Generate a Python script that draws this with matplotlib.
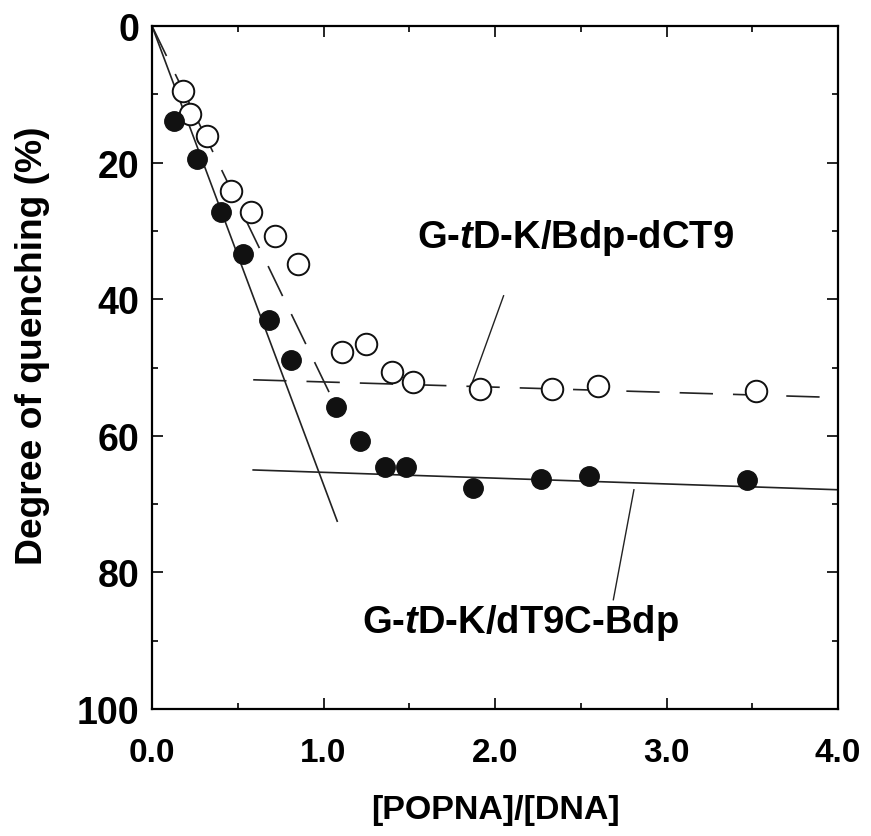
import matplotlib
matplotlib.use("Agg")
import matplotlib.pyplot as plt
from matplotlib.ticker import MultipleLocator, FormatStrFormatter

plt.rcParams['font.family'] = ['Liberation Sans', 'DejaVu Sans']
plt.rcParams['mathtext.fontset'] = 'custom'
plt.rcParams['mathtext.rm'] = 'Liberation Sans:bold'
plt.rcParams['mathtext.it'] = 'Liberation Sans:italic:bold'
plt.rcParams['mathtext.bf'] = 'Liberation Sans:bold'

# Filled circles: G-tD-K/dT9C-Bdp
x_filled = [0.13, 0.26, 0.40, 0.53, 0.68, 0.81, 1.07, 1.21, 1.36, 1.48, 1.87, 2.27, 2.55, 3.47]
y_filled = [13.9, 19.5, 27.2, 33.4, 43.0, 48.9, 55.8, 60.8, 64.6, 64.6, 67.6, 66.3, 65.9, 66.5]

# Open circles: G-tD-K/Bdp-dCT9
x_open = [0.18, 0.22, 0.32, 0.46, 0.58, 0.72, 0.85, 1.11, 1.25, 1.40, 1.52, 1.91, 2.33, 2.60, 3.52]
y_open = [9.5, 12.9, 16.1, 24.2, 27.3, 30.7, 34.8, 47.8, 46.5, 50.7, 52.1, 53.1, 53.2, 52.7, 53.5]

# Fit lines
fit_solid_steep_x = [0.0, 1.08]
fit_solid_steep_y = [0.0, 72.5]
fit_solid_flat_x = [0.59, 4.0]
fit_solid_flat_y = [65.0, 67.9]
fit_dash_steep_x = [0.0, 1.04]
fit_dash_steep_y = [0.0, 54.0]
fit_dash_flat_x = [0.59, 4.0]
fit_dash_flat_y = [51.8, 54.4]

# Leader lines for labels
leader1_x = [2.05, 1.87]
leader1_y = [39.5, 52.0]
leader2_x = [2.81, 2.69]
leader2_y = [67.9, 84.0]

label_open = r'G-$\mathit{t}$D-K/Bdp-dCT9'
label_filled = r'G-$\mathit{t}$D-K/dT9C-Bdp'

x_ticks = [0, 1, 2, 3, 4]
y_ticks = [0, 20, 40, 60, 80, 100]

fig = plt.figure(figsize=(8.71, 8.37), dpi=100)
ax = fig.add_axes([152/871, 1-710/837, (838-152)/871, (710-27)/837])

dash = (0, (20, 12))
ax.plot(fit_solid_steep_x, fit_solid_steep_y, color='#222222', lw=1.2)
ax.plot(fit_solid_flat_x, fit_solid_flat_y, color='#222222', lw=1.2)
ax.plot(fit_dash_steep_x, fit_dash_steep_y, color='#222222', lw=1.2, linestyle=dash)
ax.plot(fit_dash_flat_x, fit_dash_flat_y, color='#222222', lw=1.2, linestyle=dash)
ax.plot(leader1_x, leader1_y, color='#222222', lw=1.0)
ax.plot(leader2_x, leader2_y, color='#222222', lw=1.0)

ax.plot(x_open, y_open, linestyle='none', marker='o', ms=15.5, mfc='white',
        mec='#111111', mew=1.4, zorder=3)
ax.plot(x_filled, y_filled, linestyle='none', marker='o', ms=14, mfc='#111111',
        mec='#111111', mew=1.0, zorder=4)

ax.text(2.47, 30.9, label_open, fontsize=27.5, fontweight='bold', ha='center', va='center')
ax.text(2.15, 87.3, label_filled, fontsize=27.5, fontweight='bold', ha='center', va='center')

ax.set_xlim(0, 4)
ax.set_ylim(100, 0)
ax.set_xticks(x_ticks)
ax.set_yticks(y_ticks)
ax.xaxis.set_major_formatter(FormatStrFormatter('%.1f'))
ax.xaxis.set_minor_locator(MultipleLocator(0.5))
ax.yaxis.set_minor_locator(MultipleLocator(10))
ax.tick_params(which='both', direction='in', top=True, right=True, width=1.2)
ax.tick_params(which='major', length=8)
ax.tick_params(which='minor', length=4)
ax.tick_params(axis='x', which='major', pad=20, labelsize=24)
ax.tick_params(axis='y', which='major', pad=9, labelsize=27)
for lab in ax.get_xticklabels() + ax.get_yticklabels():
    lab.set_fontweight('bold')
for s in ax.spines.values():
    s.set_linewidth(1.6)

ax.set_xlabel('[POPNA]/[DNA]', fontsize=24.5, fontweight='bold')
ax.set_ylabel('Degree of quenching (%)', fontsize=26.8, fontweight='bold')
ax.xaxis.set_label_coords(0.5, -0.124)
ax.yaxis.set_label_coords(-0.148, 0.534)

fig.savefig('out.png', dpi=100)
